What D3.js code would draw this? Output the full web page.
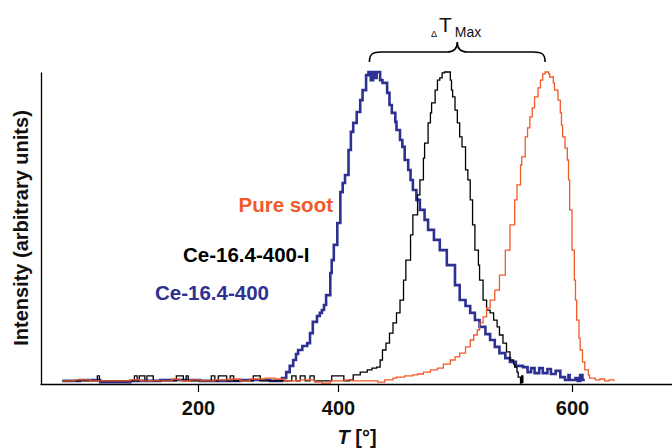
<!DOCTYPE html>
<head>
    <meta charset="utf-8">
    <script src="https://d3js.org/d3.v7.min.js"></script>
    <style>
      body { margin: 0; background: #fff; }
      text { font-family: "Liberation Sans", Arial, sans-serif; }
      .ticklabel { font-size: 20px; font-weight: bold; }
      .axistitle { font-size: 20px; font-weight: bold; }
      .legend { font-size: 20.5px; font-weight: bold; }
    </style>
<body>
    <script>
        var svg_w = 672
        var svg_h = 448

        // T [°], intensity (normalised to peak = 1)
        var ceSample = [[6,0.010],[31,0.013],[60,0.006],[103,0.010],[146,0.013],[203,0.010],[260,0.013],[303,0.010],
          [320,0.019],[326,0.038],[331,0.058],[336,0.077],[340,0.096],[343,0.109],[349,0.122],[356,0.131],[360,0.163],
          [364,0.199],[370,0.218],[374,0.228],[377,0.237],[380,0.253],[383,0.285],[389,0.356],[391,0.397],[394,0.446],
          [399,0.516],[402,0.615],[404,0.644],[406,0.670],[409,0.750],[411,0.808],[413,0.837],[416,0.872],[419,0.910],
          [421,0.942],[424,0.990],[426,1.000],[428,0.974],[430,1.000],[432,0.981],[433,1.000],[436,0.974],[438,0.965],
          [442,0.933],[444,0.894],[446,0.869],[449,0.840],[450,0.814],[453,0.782],[455,0.760],[457,0.718],[460,0.686],
          [462,0.654],[464,0.622],[467,0.590],[470,0.558],[474,0.526],[477,0.494],[482,0.462],[487,0.429],[493,0.381],
          [500,0.317],[504,0.269],[509,0.250],[513,0.228],[517,0.205],[521,0.183],[526,0.160],[530,0.141],[534,0.119],
          [538,0.099],[543,0.083],[547,0.071],[552,0.058],[558,0.054],[562,0.038],[565,0.051],[568,0.035],[572,0.051],
          [575,0.035],[579,0.048],[582,0.032],[586,0.042],[590,0.022],[594,0.013],[597,0.029],[598,0.013],[603,0.019],
          [605,0.010],[607,0.029],[609,0.013],[611,0.013]]

        var ceSampleI = [[6,0.010],[53,0.010],[56,0.026],[59,0.010],[107,0.010],[109,0.026],[113,0.010],[116,0.026],
          [124,0.010],[127,0.026],[136,0.010],[169,0.026],[179,0.010],[183,0.026],[186,0.010],[219,0.026],[224,0.010],
          [229,0.026],[241,0.010],[246,0.026],[251,0.010],[279,0.026],[289,0.010],[334,0.026],[340,0.010],[346,0.026],
          [353,0.010],[360,0.026],[366,0.010],[391,0.026],[405,0.010],[410,0.013],[413,0.029],[419,0.038],[425,0.045],
          [429,0.051],[433,0.054],[436,0.077],[438,0.109],[441,0.131],[444,0.163],[447,0.196],[450,0.228],[453,0.269],
          [456,0.333],[458,0.397],[462,0.478],[464,0.542],[468,0.606],[470,0.654],[473,0.724],[474,0.772],[477,0.837],
          [479,0.869],[480,0.901],[483,0.942],[485,0.974],[487,0.981],[489,0.997],[491,1.000],[496,0.974],[497,0.942],
          [498,0.920],[500,0.878],[502,0.837],[504,0.792],[506,0.760],[509,0.686],[511,0.654],[513,0.590],[515,0.510],
          [517,0.429],[520,0.381],[521,0.333],[524,0.269],[527,0.237],[530,0.228],[533,0.205],[536,0.183],[538,0.157],
          [541,0.131],[544,0.103],[547,0.077],[550,0.064],[551,0.054],[553,0.038],[554,0.022],[556,0.003],[557,0.026],
          [558,0.003]]

        var pureSoot = [[6,0.010],[24,0.013],[46,0.010],[103,0.013],[117,0.010],[163,0.016],[174,0.010],[189,0.013],
          [203,0.010],[224,0.013],[246,0.016],[260,0.010],[274,0.016],[296,0.019],[310,0.016],[324,0.010],[346,0.013],
          [367,0.006],[377,0.003],[389,0.010],[406,0.013],[412,0.010],[434,0.006],[440,0.013],[447,0.019],[450,0.022],
          [457,0.026],[464,0.029],[468,0.032],[473,0.038],[479,0.045],[485,0.051],[490,0.064],[496,0.077],[500,0.087],
          [504,0.099],[509,0.119],[513,0.141],[516,0.157],[519,0.173],[521,0.196],[524,0.215],[527,0.244],[530,0.269],
          [534,0.301],[538,0.349],[543,0.429],[547,0.510],[551,0.590],[553,0.638],[556,0.702],[557,0.728],[560,0.792],
          [562,0.821],[564,0.856],[566,0.885],[568,0.920],[571,0.949],[573,0.974],[575,0.994],[577,1.000],[580,0.994],
          [581,0.984],[584,0.965],[585,0.942],[588,0.910],[590,0.869],[591,0.830],[592,0.792],[594,0.756],[596,0.718],
          [597,0.654],[598,0.558],[600,0.429],[602,0.333],[603,0.269],[604,0.205],[606,0.147],[607,0.109],[609,0.071],
          [611,0.045],[614,0.029],[615,0.019],[620,0.013],[624,0.016],[628,0.010],[632,0.013],[636,0.010]]

        var xTicks = [200, 400, 600]
        var seriesNames = ["Pure soot", "Ce-16.4-400-I", "Ce-16.4-400"]
        var seriesColors = ["#f15a29", "#000000", "#2e3192"]

        var svg = d3.select("body")
          .append("svg")
          .attr("width", svg_w)
          .attr("height", svg_h)

        // the original axis is not evenly spaced, so piecewise
        var x = d3.scaleLinear()
          .domain([-26, 200, 400, 600, 686])
          .range([40, 198, 338, 572, 672])
        var y = d3.scaleLinear()
          .domain([0, 1])
          .range([384, 72])

        var line = d3.line()
          .x(function(d){ return x(d[0]) })
          .y(function(d){ return y(d[1]) })
          .curve(d3.curveStepAfter)

        svg.append("path").datum(ceSample)
          .attr("d", line).attr("fill", "none")
          .attr("stroke", seriesColors[2]).attr("stroke-width", 2.6)
        svg.append("path").datum(ceSampleI)
          .attr("d", line).attr("fill", "none")
          .attr("stroke", seriesColors[1]).attr("stroke-width", 1.3)
        svg.append("path").datum(pureSoot)
          .attr("d", line).attr("fill", "none")
          .attr("stroke", seriesColors[0]).attr("stroke-width", 1.3)

        // axes
        var xAxis = svg.append("g")
          .attr("transform", "translate(0,384)")
          .call(d3.axisBottom(x).tickValues(xTicks).tickSize(8).tickSizeOuter(0).tickPadding(9))
        xAxis.select(".domain").attr("stroke-width", 1.3)
        xAxis.selectAll("text").attr("class", "ticklabel").attr("fill", "#111")
          .style("font-size", "20px").style("font-weight", "bold")
        xAxis.selectAll(".tick line").attr("stroke-width", 1.2)

        var yAxis = svg.append("g")
          .attr("transform", "translate(41,0)")
          .call(d3.axisLeft(y).tickValues([]).tickSizeOuter(0))
        yAxis.select(".domain").attr("stroke-width", 1.3)

        svg.append("text")
          .attr("class", "axistitle")
          .attr("transform", "translate(28,228) rotate(-90)")
          .attr("text-anchor", "middle")
          .attr("fill", "#111")
          .text("Intensity (arbitrary units)")

        var xt = svg.append("text")
          .attr("class", "axistitle")
          .attr("x", 357).attr("y", 444)
          .attr("text-anchor", "middle")
          .attr("fill", "#111")
        xt.append("tspan").style("font-style", "italic").text("T")
        xt.append("tspan").text(" [°]")

        // labels
        svg.append("text").attr("class", "legend")
          .attr("x", 333).attr("y", 212).attr("text-anchor", "end")
          .attr("fill", seriesColors[0]).text(seriesNames[0])
        svg.append("text").attr("class", "legend")
          .attr("x", 183).attr("y", 262)
          .attr("fill", seriesColors[1]).text(seriesNames[1])
        svg.append("text").attr("class", "legend")
          .attr("x", 155).attr("y", 300)
          .attr("fill", seriesColors[2]).text(seriesNames[2])

        // brace between the two peak maxima
        var x1 = x(ceSample[d3.maxIndex(ceSample, function(d){ return d[1] })][0]) + 1
        var x2 = x(pureSoot[d3.maxIndex(pureSoot, function(d){ return d[1] })][0])
        var xm = (x1 + x2) / 2
        var brace = "M" + x1 + ",62 C" + x1 + ",54 " + (x1 + 3) + ",52 " + (x1 + 12) + ",52" +
          " L" + (xm - 10) + ",52 C" + (xm - 4) + ",52 " + xm + ",49 " + xm + ",42" +
          " C" + xm + ",49 " + (xm + 4) + ",52 " + (xm + 10) + ",52" +
          " L" + (x2 - 12) + ",52 C" + (x2 - 3) + ",52 " + x2 + ",54 " + x2 + ",62"
        svg.append("path").attr("d", brace)
          .attr("fill", "none").attr("stroke", "#000").attr("stroke-width", 1.6)

        var dt = svg.append("text").attr("x", 431).attr("y", 37).attr("fill", "#111")
        dt.append("tspan").style("font-size", "9px").text("Δ")
        dt.append("tspan").attr("dx", 2).attr("dy", -5).style("font-size", "21px").text("T")
        dt.append("tspan").attr("dx", 3).attr("dy", 5).style("font-size", "14px").text("Max")
    </script>
</body>
